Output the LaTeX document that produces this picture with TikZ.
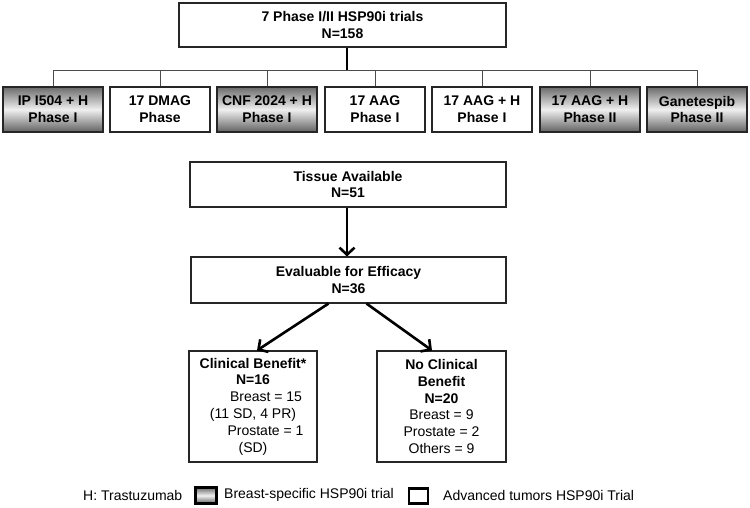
\documentclass[tikz,border=0pt]{standalone}
\usepackage{fontspec}
\setmainfont{Liberation Sans}
\usetikzlibrary{arrows.meta}
\tikzset{
  box/.style={draw=black!85, line width=1.1pt, fill=white, align=center, inner sep=0pt,
    font=\fontsize{14}{16.8}\selectfont\bfseries},
  trial/.style={box, minimum width=100pt, minimum height=45pt},
  grad/.style={top color=black!58, bottom color=black!62, middle color=black!6},
  tree/.style={draw=black!70, line width=0.9pt},
  arr/.style={line width=2.6pt, -{Straight Barb[length=7pt,width=15pt,line width=2.6pt]}},
  legtext/.style={anchor=west, inner sep=0pt, font=\fontsize{14}{16.8}\selectfont},
  legbox/.style={draw=black, line width=2.6pt, inner sep=0pt}
}
\begin{document}
\begin{tikzpicture}[x=1pt,y=-1pt]
\useasboundingbox (0,0) rectangle (750,507);
\node[box, minimum width=327pt, minimum height=44pt] (top) at (342.5,25) {7 Phase I/II HSP90i trials\\N=158};
\node[trial, grad] (t1) at (53,109.5) {IP I504 + H\\Phase I};
\node[trial] (t2) at (160,109.5) {17 DMAG\\Phase};
\node[trial, grad] (t3) at (267,109.5) {CNF 2024 + H\\Phase I};
\node[trial] (t4) at (375,109.5) {17 AAG\\Phase I};
\node[trial] (t5) at (482,109.5) {17 AAG + H\\Phase I};
\node[trial, grad] (t6) at (590,109.5) {17 AAG + H\\Phase II};
\node[trial, grad] (t7) at (697,109.5) {Ganetespib\\Phase II};
\coordinate (j) at (347,70);
\draw[tree] (t1.north |- j) -- (t7.north |- j);
\foreach \i in {1,...,7} \draw[tree] (t\i.north |- j) -- (t\i.north);
\draw[line width=2.6pt] (top.south -| j) -- (j);

\node[box, minimum width=316pt, minimum height=45pt] (tissue) at (348,184.5) {Tissue Available\\N=51};
\node[box, minimum width=315pt, minimum height=46pt] (eval) at (348.5,280) {Evaluable for Efficacy\\N=36};
\node[box, minimum width=128pt, minimum height=111pt] (cb) at (253,406.5)
  {Clinical Benefit*\\N=16\\\mdseries\hspace*{26pt}Breast = 15\\\mdseries(11 SD, 4 PR)\hspace*{12pt}\\\mdseries\hspace*{25pt}Prostate = 1\\\mdseries(SD)};
\node[box, minimum width=129pt, minimum height=111pt] (ncb) at (441.5,406.5)
  {No Clinical\\Benefit\\N=20\\\mdseries Breast = 9\\\mdseries Prostate = 2\\\mdseries Others = 9};

\draw[arr] (tissue.south -| j) -- (eval.north -| j);
\draw[arr] ([xshift=-20pt]eval.south) -- ([xshift=4pt]cb.north);
\draw[arr] ([xshift=18pt]eval.south) -- ([xshift=-9.5pt]ncb.north);

\node[legtext] (l1) at (83,495) {H: Trastuzumab};
\node[legbox, grad, minimum width=21pt, minimum height=16pt] (lg) at (206,495.5) {};
\node[legtext] (l2) at (224,495) {Breast-specific HSP90i trial};
\node[legbox, fill=white, minimum width=19pt, minimum height=15pt] (lw) at (418.5,496) {};
\node[legtext] (l3) at (443,495) {Advanced tumors HSP90i Trial};
\end{tikzpicture}
\end{document}
